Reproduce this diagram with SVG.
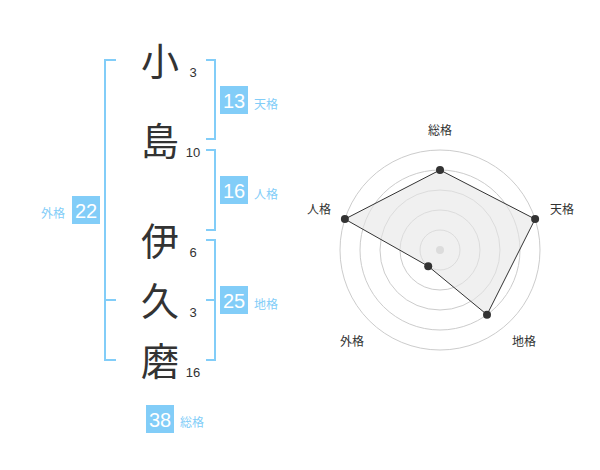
<svg xmlns="http://www.w3.org/2000/svg" width="600" height="470" viewBox="0 0 600 470">
<style>
.k{font-family:"Noto Sans CJK JP","Noto Sans CJK SC",sans-serif;font-size:38px;fill:#333;text-anchor:middle}
.n{font-family:"Liberation Sans",Arial,sans-serif;font-size:13px;fill:#333;text-anchor:middle}
.br{fill:none;stroke:#82cdf8;stroke-width:2}
.box{fill:#82cdf8}
.bt{font-family:"Liberation Sans",Arial,sans-serif;font-size:20px;fill:#fff;text-anchor:middle}
.lb{font-family:"Noto Sans CJK JP","Noto Sans CJK SC",sans-serif;font-size:12px;fill:#82cdf8}
.rl{font-family:"Noto Sans CJK JP","Noto Sans CJK SC",sans-serif;font-size:12px;fill:#333;text-anchor:middle}
.ring{fill:none;stroke:#ccc;stroke-width:1}
.dot{fill:#333}
</style>
<rect width="600" height="470" fill="#fff"/>
<g id="name">
<g id="c1"><text class="k" x="160" y="75">小</text><text class="n" x="193" y="77">3</text></g>
<g id="c2"><text class="k" x="160" y="155">島</text><text class="n" x="193" y="157">10</text></g>
<g id="c3"><text class="k" x="160" y="255">伊</text><text class="n" x="193" y="257">6</text></g>
<g id="c4"><text class="k" x="160" y="315">久</text><text class="n" x="193" y="317">3</text></g>
<g id="c5"><text class="k" x="160" y="375">磨</text><text class="n" x="193" y="377">16</text></g>
</g>
<g id="connectors">
<path class="br" d="M116,60 H105 V360 H116 M105,300 H116"/>
<path class="br" d="M206,60 H215 V139 H206"/>
<path class="br" d="M206,150 H215 V230 H206"/>
<path class="br" d="M206,240 H215 V360 H206 M206,300 H215"/>
</g>
<g id="tenkaku"><rect class="box" x="220" y="86" width="28" height="28"/><text class="bt" x="234" y="108">13</text><text class="lb" x="254" y="108.5">天格</text></g>
<g id="jinkaku"><rect class="box" x="220" y="176" width="28" height="28"/><text class="bt" x="234" y="198">16</text><text class="lb" x="254" y="198.5">人格</text></g>
<g id="chikaku"><rect class="box" x="220" y="286" width="28" height="28"/><text class="bt" x="234" y="308">25</text><text class="lb" x="254" y="309">地格</text></g>
<g id="gaikaku"><rect class="box" x="72" y="196" width="28" height="28"/><text class="bt" x="86" y="218">22</text><text class="lb" x="65" y="217.5" text-anchor="end">外格</text></g>
<g id="soukaku"><rect class="box" x="146" y="405" width="28" height="28"/><text class="bt" x="160" y="427">38</text><text class="lb" x="180" y="426.5">総格</text></g>
<g id="radar">
<circle class="ring" cx="440" cy="250" r="20"/>
<circle class="ring" cx="440" cy="250" r="40"/>
<circle class="ring" cx="440" cy="250" r="60"/>
<circle class="ring" cx="440" cy="250" r="80"/>
<circle class="ring" cx="440" cy="250" r="100"/>
<circle cx="440" cy="250" r="4" fill="#ccc"/>
<polygon points="440,170 535.1,219.1 487,314.7 428.2,266.2 344.9,219.1" fill="#e6e6e6" fill-opacity="0.6" stroke="#333" stroke-width="1"/>
<circle class="dot" cx="440" cy="170" r="4"/>
<circle class="dot" cx="535.1" cy="219.1" r="4"/>
<circle class="dot" cx="487" cy="314.7" r="4"/>
<circle class="dot" cx="428.2" cy="266.2" r="4"/>
<circle class="dot" cx="344.9" cy="219.1" r="4"/>
<text class="rl" x="440" y="135">総格</text>
<text class="rl" x="562" y="213.5">天格</text>
<text class="rl" x="524" y="346">地格</text>
<text class="rl" x="352" y="346">外格</text>
<text class="rl" x="319" y="213.5">人格</text>
</g>
</svg>
